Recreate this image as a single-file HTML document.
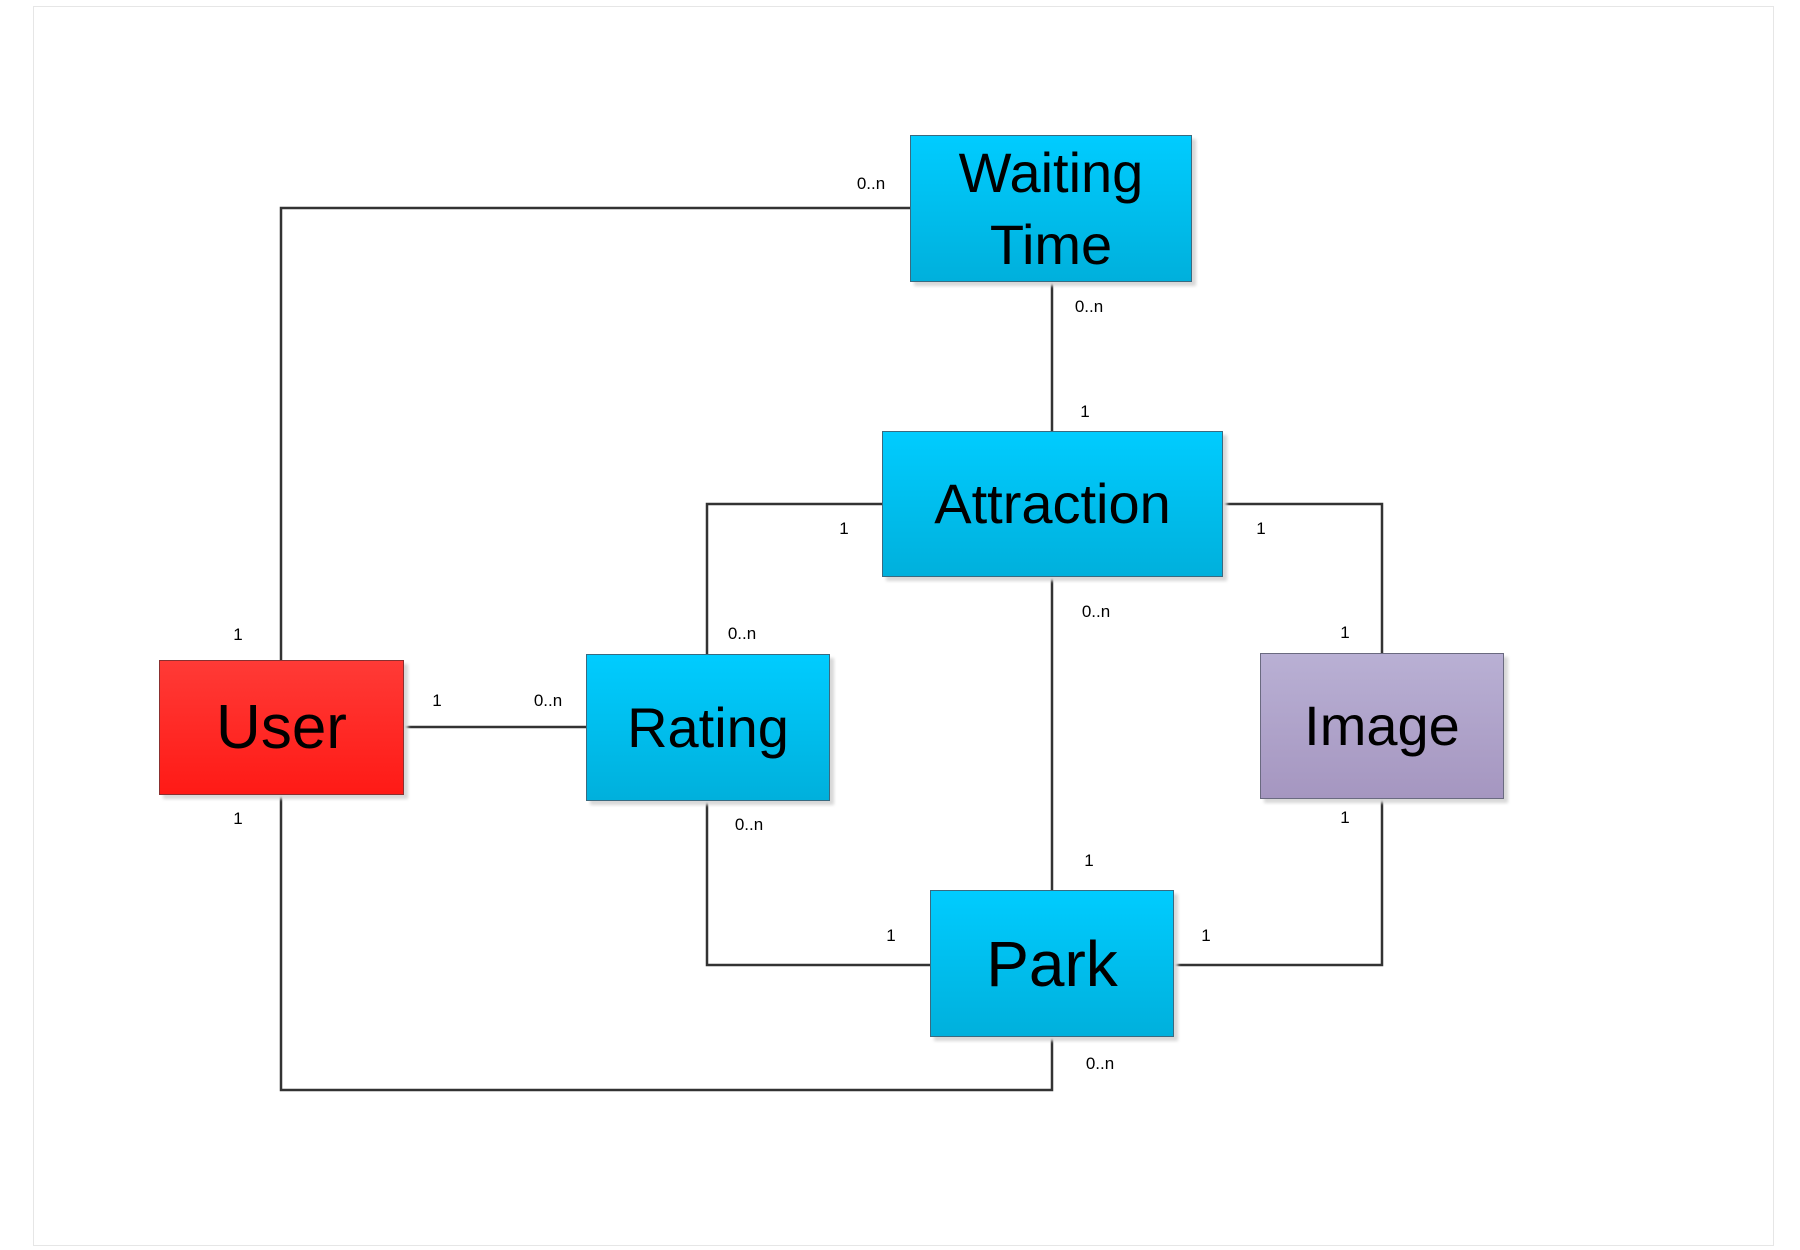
<!DOCTYPE html>
<html><head><meta charset="utf-8"><style>
html,body{margin:0;padding:0;background:#fff;}
body{width:1800px;height:1250px;position:relative;overflow:hidden;font-family:"Liberation Sans",sans-serif;}
.frame{position:absolute;left:33px;top:6px;width:1741px;height:1240px;border:1px solid #e6e6e6;box-sizing:border-box;}
.box{position:absolute;box-sizing:border-box;border:1px solid #3a6a80;display:flex;align-items:center;justify-content:center;text-align:center;font-size:56px;color:#000;box-shadow:4px 4px 3px #d8d8d8;line-height:72px;}
.blue{background:linear-gradient(#00ccff,#00b0dc);}
.red{background:linear-gradient(#ff3a36,#ff1a16);border-color:#8a3030;}
.purple{background:linear-gradient(#b9b0d4,#a596c0);border-color:#6a6a80;}
.l{position:absolute;font-size:17px;color:#000;transform:translate(-50%,-50%);white-space:nowrap;}
svg{position:absolute;left:0;top:0;}
</style></head><body>
<div class="frame"></div>
<svg width="1800" height="1250">
<g stroke="#333" stroke-width="2.5" fill="none">
<polyline points="281,660 281,208 912,208"/>
<line x1="1052" y1="281" x2="1052" y2="431"/>
<polyline points="882,504 707,504 707,654"/>
<polyline points="1223,504 1382,504 1382,653"/>
<line x1="1052" y1="576" x2="1052" y2="890"/>
<polyline points="707,800 707,965 930,965"/>
<polyline points="1382,798 1382,965 1174,965"/>
<polyline points="281,794 281,1090 1052,1090 1052,1036"/>
<line x1="404" y1="727" x2="586" y2="727"/>
</g>
</svg>
<div class="box blue" style="left:910px;top:135px;width:282px;height:147px;">Waiting<br>Time</div>
<div class="box blue" style="left:882px;top:431px;width:341px;height:146px;">Attraction</div>
<div class="box red" style="left:159px;top:660px;width:245px;height:135px;font-size:62px;">User</div>
<div class="box blue" style="left:586px;top:654px;width:244px;height:147px;">Rating</div>
<div class="box purple" style="left:1260px;top:653px;width:244px;height:146px;">Image</div>
<div class="box blue" style="left:930px;top:890px;width:244px;height:147px;font-size:64px;">Park</div>
<div class="l" style="left:871px;top:184px">0..n</div>
<div class="l" style="left:1089px;top:307px">0..n</div>
<div class="l" style="left:1085px;top:412px">1</div>
<div class="l" style="left:844px;top:529px">1</div>
<div class="l" style="left:1261px;top:529px">1</div>
<div class="l" style="left:1096px;top:612px">0..n</div>
<div class="l" style="left:742px;top:634px">0..n</div>
<div class="l" style="left:1345px;top:633px">1</div>
<div class="l" style="left:238px;top:635px">1</div>
<div class="l" style="left:437px;top:701px">1</div>
<div class="l" style="left:548px;top:701px">0..n</div>
<div class="l" style="left:238px;top:819px">1</div>
<div class="l" style="left:749px;top:825px">0..n</div>
<div class="l" style="left:1345px;top:818px">1</div>
<div class="l" style="left:1089px;top:861px">1</div>
<div class="l" style="left:891px;top:936px">1</div>
<div class="l" style="left:1206px;top:936px">1</div>
<div class="l" style="left:1100px;top:1064px">0..n</div>
</body></html>
